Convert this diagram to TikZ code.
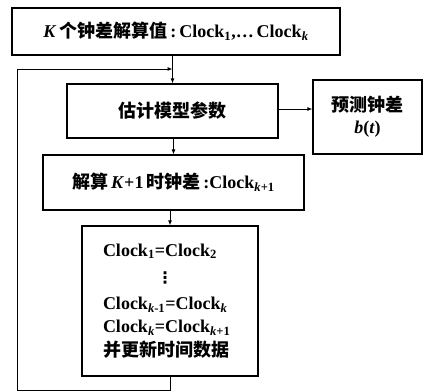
\documentclass[tikz,border=0pt]{standalone}
\usepackage{fontspec}
\setmainfont{Liberation Serif}
\newfontfamily\cjk{Noto Sans CJK SC}
\newfontfamily\dv{DejaVu Sans}
\usetikzlibrary{arrows.meta}
\begin{document}
\begin{tikzpicture}[x=1pt,y=-1pt,
  box/.style={draw, line width=1.2pt, inner sep=0pt, font=\fontsize{18}{22}\selectfont\bfseries},
  arr/.style={line width=0.9pt, -{Latex[length=5pt,width=4pt]}},
  ln/.style={line width=0.9pt}]
\useasboundingbox (0,0) rectangle (427,391);
\node[box, minimum width=328pt, minimum height=47pt] (b1) at (176,31.5)
  {\textit{K}\,{\cjk 个钟差解算值}\,:\,Clock\textsubscript{1},\ldots\,Clock\textsubscript{\textit{k}}};
\node[box, minimum width=211pt, minimum height=54pt] (b2) at (172.5,111)
  {\cjk 估计模型参数};
\node[box, minimum width=109pt, minimum height=74pt, align=center] (b3) at (367.5,117)
  {{\cjk 预测钟差}\\[0pt]\textit{b}(\textit{t})};
\node[box, minimum width=261pt, minimum height=55pt] (b4) at (173.5,182.5)
  {{\cjk 解算}\,\textit{K}+1\,{\cjk 时钟差}\,:Clock\textsubscript{\textit{k}+1}};
\node[box, minimum width=176pt, minimum height=150pt, align=left, text width=134pt,
  font=\fontsize{18}{23.5}\selectfont\bfseries] (b5) at (170,301)
  {Clock\textsubscript{1}=Clock\textsubscript{2}\\[4pt]
   \hspace*{54pt}{\dv\fontsize{16}{16}\selectfont ⋮}\\[2pt]
   Clock\textsubscript{\textit{k}-1}=Clock\textsubscript{\textit{k}}\\
   Clock\textsubscript{\textit{k}}=Clock\textsubscript{\textit{k}+1}\\
   {\cjk 并更新时间数据}};
\coordinate (j) at (b2.north |- 0,69);
\coordinate (c1) at (b5.south |- 0,390);
\coordinate (c2) at (17,390);
\coordinate (c3) at (17,69);
\draw[arr] (b1.south -| b2.north) -- (b2.north);
\draw[arr] (b2.east |- 0,109) -- (b3.west |- 0,109);
\draw[arr] (b2.south -| b4.north) -- (b4.north);
\draw[arr] (b4.south -| b5.north) -- (b5.north);
\draw[ln] (b5.south) -- (c1) -- (c2) -- (c3);
\draw[arr] (c3) -- (j);
\end{tikzpicture}
\end{document}
